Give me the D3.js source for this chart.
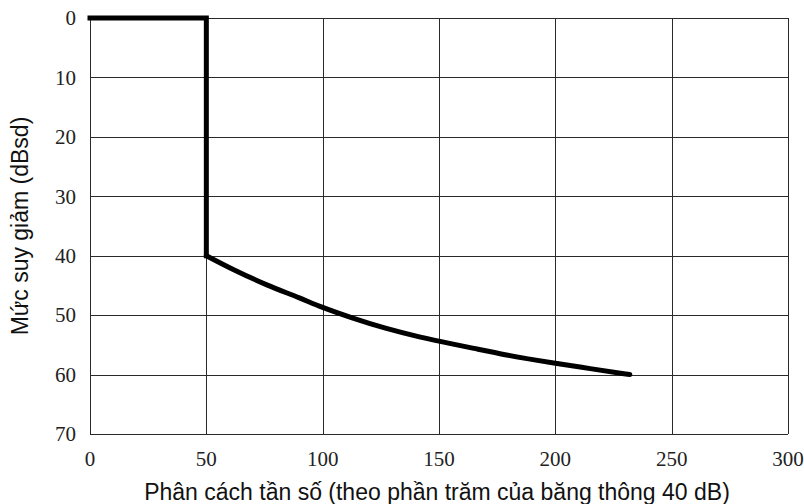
<!DOCTYPE html>
<html>
<head>
<meta charset="utf-8">
<script src="https://cdn.jsdelivr.net/npm/d3@7"></script>
<style>
  html, body { margin: 0; padding: 0; background: #fff; }
  svg { display: block; }
</style>
</head>
<body>
<svg id="chart" width="804" height="504"></svg>
<script>
// ---- data ----
const xTicks = [0, 50, 100, 150, 200, 250, 300];
const yTicks = [0, 10, 20, 30, 40, 50, 60, 70];
const stepX = [0, 50, 50];
const stepY = [0, 0, 40];
const curveX = [50, 62, 76, 90, 100, 113, 127, 142, 154, 165, 179, 200, 215, 232];
const curveY = [40, 42.4, 44.9, 47.1, 48.7, 50.5, 52.2, 53.7, 54.7, 55.6, 56.7, 58.1, 59.0, 60];
const xTitle = "Phân cách tần số (theo phần trăm của băng thông 40 dB)";
const yTitle = "Mức suy giảm (dBsd)";

// ---- layout ----
const L = 90, R = 788, T = 18, B = 434;
const svg = d3.select("#chart");
const x = d3.scaleLinear().domain([0, 300]).range([L, R]);
const y = d3.scaleLinear().domain([0, 70]).range([T, B]);
const px = v => Math.round(v) + 0.5;
const SERIF = '"Liberation Serif", "Times New Roman", serif';
const SANS = '"Liberation Sans", Arial, sans-serif';

// grid
const g = svg.append("g");
g.selectAll("line.v").data(xTicks).join("line")
  .attr("x1", d => px(x(d))).attr("x2", d => px(x(d)))
  .attr("y1", T).attr("y2", B)
  .attr("stroke", "#2a2a2a").attr("stroke-width", 1);
g.selectAll("line.h").data(yTicks).join("line")
  .attr("x1", L).attr("x2", R)
  .attr("y1", d => px(y(d))).attr("y2", d => px(y(d)))
  .attr("stroke", "#2a2a2a").attr("stroke-width", 1);

// tick labels
svg.append("g").selectAll("text").data(xTicks).join("text")
  .attr("x", d => x(d)).attr("y", 466)
  .attr("text-anchor", "middle")
  .style("font-family", SERIF).style("font-size", "21px").style("fill", "#222")
  .text(d => String(d));
svg.append("g").selectAll("text").data(yTicks).join("text")
  .attr("x", 76).attr("y", d => y(d))
  .attr("dy", "0.35em")
  .attr("text-anchor", "end")
  .style("font-family", SERIF).style("font-size", "21px").style("fill", "#222")
  .text(d => String(d));

// axis titles
svg.append("text")
  .attr("x", (L + R) / 2 - 2).attr("y", 500)
  .attr("text-anchor", "middle")
  .style("font-family", SANS).style("font-size", "23px").style("fill", "#111")
  .text(xTitle);
svg.append("text")
  .attr("transform", `translate(28, ${(T + B) / 2}) rotate(-90)`)
  .attr("text-anchor", "middle")
  .style("font-family", SANS).style("font-size", "23px").style("fill", "#111")
  .text(yTitle);

// data line
const stepPts = stepX.map((d, i) => [d, stepY[i]]);
const curvePts = curveX.map((d, i) => [d, curveY[i]]);
const lineLin = d3.line().x(d => x(d[0])).y(d => y(d[1]));
const lineSmooth = d3.line().x(d => x(d[0])).y(d => y(d[1])).curve(d3.curveMonotoneX);
svg.append("path")
  .attr("d", lineLin(stepPts))
  .attr("fill", "none").attr("stroke", "#000").attr("stroke-width", 5)
  .attr("stroke-linejoin", "miter").attr("stroke-linecap", "square");
svg.append("path")
  .attr("d", lineSmooth(curvePts))
  .attr("fill", "none").attr("stroke", "#000").attr("stroke-width", 5)
  .attr("stroke-linejoin", "round").attr("stroke-linecap", "round");
</script>
</body>
</html>
